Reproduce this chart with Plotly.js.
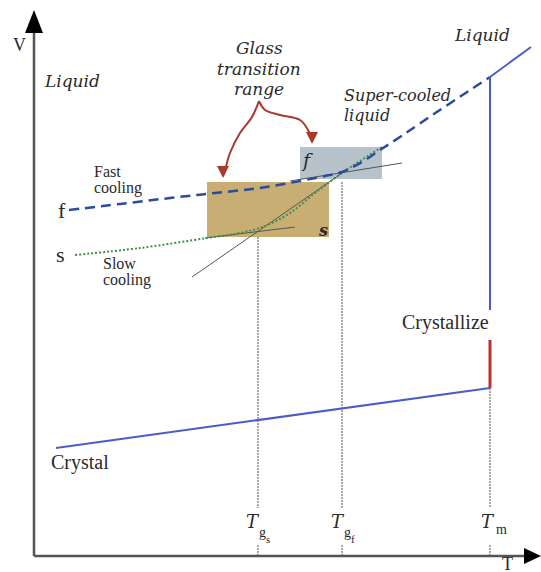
<!DOCTYPE html>
<html>
<head>
<meta charset="utf-8">
<script src="https://cdn.plot.ly/plotly-3.0.1.min.js"></script>
<style>html,body{margin:0;padding:0;background:#fff;}#chart{width:541px;height:572px;}</style>
</head>
<body>
<div id="chart"></div>
<script>
// ---- Schematic data (diagram units: T to the right, V on an inverted axis) ----
// Fast cooling curve (f) merging into super-cooled liquid (dashed)
const fastT = [69, 120, 170, 215, 260, 300, 325, 342, 362, 380, 400, 425, 455, 490];
const fastV = [210, 204, 198, 193, 188, 181, 176, 172, 162, 150, 137, 120, 100, 77];
// Slow cooling curve (s) (dotted green)
const slowT = [75, 140, 207, 240, 265, 290, 315, 342, 360, 382];
const slowV = [255, 248, 238, 233, 226, 213, 193, 173, 161, 147];
// Liquid above Tm
const liquidT = [490, 531];
const liquidV = [77, 47];
// Melting / crystallization drop
const dropT = [490, 490];
const dropV = [77, 310];
const crystallizeT = [490, 490];
const crystallizeV = [340, 388];
// Crystal line
const crystalT = [56, 490];
const crystalV = [448, 388];
// Tangent construction lines
const diagT = [192, 345];
const diagV = [277, 171];
const fTanT = [290, 402];
const fTanV = [181, 163];
const sTanT = [205, 295];
const sTanV = [238, 227];
// Glass transition ranges (boxes)
const boxS_T = [207, 329];
const boxS_V = [182, 237];
const boxF_T = [300, 382];
const boxF_V = [147, 179];
// Characteristic temperatures and the top of their guide lines
const tempNames = ["Tgs", "Tgf", "Tm"];
const tempT = [258, 342, 490];
const tempTop = [237, 182, 388];
// Axes
const axisOrigin = [34, 556];
const axisEnd = [541, 10];
// Red brace arrows
const braceLeftT = [259, 252, 240, 230, 225, 223];
const braceLeftV = [101, 117, 133, 153, 170, 176];
const braceRightT = [259, 265, 280, 300, 308, 312];
const braceRightV = [101, 110, 115, 120, 130, 140];

const serif = "Liberation Serif";
const iserif = "DejaVu Serif";
const ink = "#2a2a2a";
const traces = [];

function line(x, y, color, width, dash, shape) {
  traces.push({x: x, y: y, mode: "lines", type: "scatter", hoverinfo: "skip", showlegend: false,
    line: {color: color, width: width, dash: dash || "solid", shape: shape || "linear"}});
}
function box(t, v, color) {
  traces.push({x: [t[0], t[1], t[1], t[0], t[0]], y: [v[0], v[0], v[1], v[1], v[0]],
    mode: "lines", fill: "toself", fillcolor: color, line: {width: 0, color: color},
    hoverinfo: "skip", showlegend: false, type: "scatter"});
}

// boxes first
box(boxS_T, boxS_V, "#c8ae72");
box(boxF_T, boxF_V, "#b8c2cb");

// guide lines (gray dotted verticals)
for (let i = 0; i < tempT.length; i++) {
  line([tempT[i], tempT[i]], [tempTop[i], 508], "#8a8a8a", 1.5, "2px,1px");
  line([tempT[i], tempT[i]], [545, axisOrigin[1]], "#8a8a8a", 1.5, "2px,1px");
}

// tangent construction lines
line(diagT, diagV, "#555", 1);
line(fTanT, fTanV, "#555", 1);
line(sTanT, sTanV, "#555", 1);

// curves
line(slowT, slowV, "#3d8f4f", 2, "2px,2px", "spline");
line(fastT, fastV, "#2c4a9e", 2.5, "10px,6px", "spline");
line(liquidT, liquidV, "#4a5cc8", 2);
line(dropT, dropV, "#4a5cc8", 2);
line(crystallizeT, crystallizeV, "#c0302a", 3);
line(crystalT, crystalV, "#4a5cc8", 2);

// red brace
line(braceLeftT, braceLeftV, "#a8392c", 2, "solid", "spline");
line(braceRightT, braceRightV, "#a8392c", 2, "solid", "spline");

// axes
line([axisOrigin[0], axisOrigin[0]], [axisOrigin[1], 30], "#555", 2.5);
line([axisOrigin[0], 527], [axisOrigin[1], axisOrigin[1]], "#555", 2.5);
traces.push({x: [axisOrigin[0], axisOrigin[0] - 9, axisOrigin[0] + 9, axisOrigin[0]], y: [axisEnd[1], 33, 33, axisEnd[1]],
  mode: "lines", fill: "toself", fillcolor: "#000", line: {width: 0, color: "#000"}, hoverinfo: "skip", showlegend: false});
traces.push({x: [axisEnd[0], 524, 524, axisEnd[0]], y: [axisOrigin[1], axisOrigin[1] - 8, axisOrigin[1] + 8, axisOrigin[1]],
  mode: "lines", fill: "toself", fillcolor: "#000", line: {width: 0, color: "#000"}, hoverinfo: "skip", showlegend: false});

function txt(x, y, text, size, opts) {
  return Object.assign({x: x, y: y, xref: "x", yref: "y", text: text, showarrow: false,
    font: {family: serif, size: size, color: ink}, xanchor: "left", yanchor: "middle"}, opts || {});
}
function itxt(x, y, text, size, opts) {
  const a = txt(x, y, text, size, opts);
  a.font = {family: iserif, size: size, color: ink, style: "italic"};
  return a;
}
const ann = [
  txt(19, 45, "V", 18, {xanchor: "center"}),
  txt(507, 564, "T", 18, {xanchor: "center"}),
  itxt(42, 81, "Liquid", 17),
  itxt(452, 35, "Liquid", 17),
  itxt(259, 48, "Glass", 17, {xanchor: "center"}),
  itxt(259, 69, "transition", 17, {xanchor: "center"}),
  itxt(259, 89, "range", 17, {xanchor: "center"}),
  itxt(342, 95, "Super-cooled", 16),
  itxt(342, 115, "liquid", 16),
  txt(92, 171, "Fast", 16),
  txt(92, 188, "cooling", 16),
  txt(101, 263, "Slow", 16),
  txt(101, 280, "cooling", 16),
  txt(62, 210, "f", 22, {xanchor: "center"}),
  txt(60, 254, "s", 22, {xanchor: "center"}),
  itxt(307, 160, "f", 19, {xanchor: "center"}),
  itxt(323, 230, "<b>s</b>", 16, {xanchor: "center"}),
  txt(491, 322, "Crystallize", 20, {xanchor: "right"}),
  txt(49, 462, "Crystal", 20),
  // temperature labels
  itxt(253, 521, "T", 18, {xanchor: "center"}),
  txt(262, 532, "g", 14, {xanchor: "center"}),
  txt(268, 539, "s", 11, {xanchor: "center"}),
  itxt(338, 521, "T", 18, {xanchor: "center"}),
  txt(347, 532, "g", 14, {xanchor: "center"}),
  txt(353, 539, "f", 11, {xanchor: "center"}),
  itxt(488, 521, "T", 18, {xanchor: "center"}),
  txt(501, 529, "m", 14, {xanchor: "center"}),
  // arrowheads of the red brace
  {x: braceLeftT[braceLeftT.length - 1], y: braceLeftV[braceLeftV.length - 1] + 2, xref: "x", yref: "y",
   ax: 0, ay: -10, showarrow: true, arrowhead: 2, arrowsize: 1.2, arrowwidth: 2, arrowcolor: "#a8392c", text: ""},
  {x: braceRightT[braceRightT.length - 1], y: braceRightV[braceRightV.length - 1] + 4, xref: "x", yref: "y",
   ax: 0, ay: -10, showarrow: true, arrowhead: 2, arrowsize: 1.2, arrowwidth: 2, arrowcolor: "#a8392c", text: ""}
];

const layout = {
  width: 541, height: 572,
  margin: {l: 0, r: 0, t: 0, b: 0},
  paper_bgcolor: "#fff", plot_bgcolor: "#fff",
  xaxis: {range: [0, 541], visible: false, fixedrange: true},
  yaxis: {range: [572, 0], visible: false, fixedrange: true},
  showlegend: false,
  annotations: ann
};
Plotly.newPlot("chart", traces, layout, {displayModeBar: false, staticPlot: true});
</script>
</body>
</html>
